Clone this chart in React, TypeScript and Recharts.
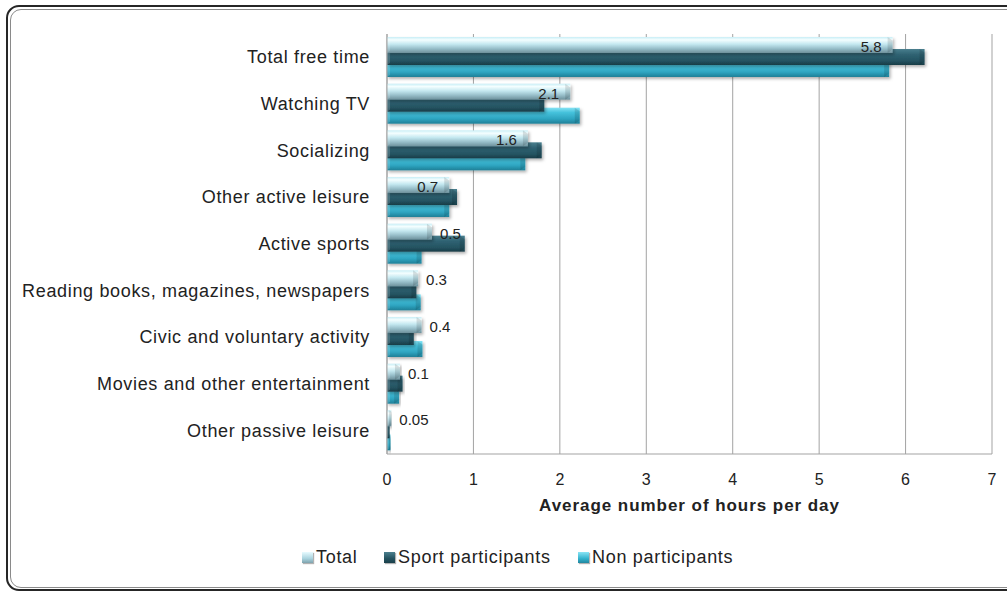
import React from 'react';
import { BarChart, Bar, XAxis, YAxis, CartesianGrid, LabelList } from 'recharts';

const categories = [
  'Total free time',
  'Watching TV',
  'Socializing',
  'Other active leisure',
  'Active sports',
  'Reading books, magazines, newspapers',
  'Civic and voluntary activity',
  'Movies and other entertainment',
  'Other passive leisure',
];
const totalValues = [5.85, 2.12, 1.63, 0.72, 0.52, 0.36, 0.4, 0.15, 0.05];
const sportValues = [6.22, 1.82, 1.79, 0.81, 0.9, 0.34, 0.31, 0.18, 0.03];
const nonValues = [5.81, 2.23, 1.6, 0.72, 0.4, 0.39, 0.41, 0.14, 0.04];
const totalLabels = ['5.8', '2.1', '1.6', '0.7', '0.5', '0.3', '0.4', '0.1', '0.05'];
const xTicks = [0, 1, 2, 3, 4, 5, 6, 7];

const data = categories.map((name, i) => ({
  name,
  total: totalValues[i],
  sport: sportValues[i],
  non: nonValues[i],
  label: totalLabels[i],
}));

const FONT = '"Liberation Sans", Arial, Helvetica, sans-serif';
const BAR_SIZE = 16;
const BAR_GAP = -4;
const STEP = BAR_SIZE + BAR_GAP;

// Series are painted Non -> Sport -> Total (so Total sits on top, as in the reference),
// while the slot order within each band is Total (top), Sport, Non (bottom).
const makeShape = (gid: string, slotShift: number) => (props: any) => {
  const { x, width, height } = props;
  const y = props.y + slotShift * STEP;
  if (!width || width <= 0) return null;
  const b = Math.min(5, width / 2);
  return (
    <g filter="url(#barShadow)">
      <rect x={x} y={y} width={width} height={height} fill={`url(#${gid})`} />
      <polygon
        points={`${x + width - b},${y} ${x + width},${y + b * 0.7} ${x + width},${y + height - b * 0.7} ${x + width - b},${y + height}`}
        fill="#000"
        fillOpacity={0.12}
      />
      <polygon
        points={`${x},${y} ${x + Math.min(3, width / 2)},${y + 2} ${x + Math.min(3, width / 2)},${y + height - 2} ${x},${y + height}`}
        fill="#fff"
        fillOpacity={0.15}
      />
    </g>
  );
};

const YTick = (props: any) => {
  const { x, y, payload } = props;
  return (
    <text x={x} y={y} dy={6} textAnchor="end" fontSize={18} fill="#222" letterSpacing={0.66} fontFamily={FONT}>
      {payload.value}
    </text>
  );
};

const XTick = (props: any) => {
  const { x, y, payload } = props;
  return (
    <text x={x} y={y} dy={15} textAnchor="middle" fontSize={16} fill="#222" fontFamily={FONT}>
      {payload.value}
    </text>
  );
};

const TotalLabel = (props: any) => {
  const { x, width, height, index } = props;
  const y = props.y - 2 * STEP;
  const text = totalLabels[index];
  const inside = index < 4;
  const tx = inside ? x + width - 11 : x + width + 8;
  return (
    <text
      x={tx}
      y={y + height / 2 + 2}
      dy={5}
      textAnchor={inside ? 'end' : 'start'}
      fontSize={15}
      fill="#222"
      fontFamily={FONT}
    >
      {text}
    </text>
  );
};

const legendItems = [
  { label: 'Total', left: 302, grad: 'linear-gradient(#e8fbff, #a9d3de 60%, #7fa2ad)' },
  { label: 'Sport participants', left: 384, grad: 'linear-gradient(#4b7f8e, #24525f 60%, #1a3f4a)' },
  { label: 'Non participants', left: 578, grad: 'linear-gradient(#8ae4f5, #33b2cd 60%, #22879f)' },
];

export default function App() {
  return (
    <div style={{ position: 'absolute', left: 0, top: 0, width: 1007, height: 592, overflow: 'hidden', background: '#fff' }}>
      <div
        style={{
          position: 'absolute',
          left: 6,
          top: 5,
          width: 1020,
          height: 586,
          boxSizing: 'border-box',
          border: '2.5px solid #262626',
          borderRadius: 13,
        }}
      >
        <div
          style={{
            position: 'absolute',
            left: 1.5,
            top: 1.5,
            right: 1.5,
            bottom: 1.5,
            border: '1px solid #8a8a8a',
            borderRadius: 11,
          }}
        />
      </div>
      <div style={{ position: 'absolute', left: 0, top: 0 }}>
        <BarChart
          width={1007}
          height={592}
          data={data}
          layout="vertical"
          margin={{ top: 34, right: 15, bottom: 78, left: 0 }}
          barSize={BAR_SIZE}
          barGap={BAR_GAP}
        >
          <defs>
            <linearGradient id="gTotal" x1="0" y1="0" x2="0" y2="1">
              <stop offset="0%" stopColor="#c8eef6" />
              <stop offset="18%" stopColor="#f4feff" />
              <stop offset="45%" stopColor="#c4e8f0" />
              <stop offset="72%" stopColor="#98bfca" />
              <stop offset="100%" stopColor="#6d909b" />
            </linearGradient>
            <linearGradient id="gSport" x1="0" y1="0" x2="0" y2="1">
              <stop offset="0%" stopColor="#4a7f8e" />
              <stop offset="35%" stopColor="#2f6272" />
              <stop offset="75%" stopColor="#245361" />
              <stop offset="100%" stopColor="#183c47" />
            </linearGradient>
            <linearGradient id="gNon" x1="0" y1="0" x2="0" y2="1">
              <stop offset="0%" stopColor="#86e3f4" />
              <stop offset="30%" stopColor="#45c2dc" />
              <stop offset="70%" stopColor="#2ea4c0" />
              <stop offset="100%" stopColor="#1f7f97" />
            </linearGradient>
            <filter id="barShadow" x="-5%" y="-30%" width="115%" height="180%">
              <feDropShadow dx="1.5" dy="2" stdDeviation="1.5" floodColor="#000" floodOpacity="0.3" />
            </filter>
          </defs>
          <CartesianGrid horizontal={false} vertical stroke="#a3a3a3" strokeWidth={1} />
          <XAxis
            type="number"
            domain={[0, 7]}
            ticks={xTicks}
            tickLine={false}
            axisLine={{ stroke: '#a3a3a3' }}
            tickSize={0}
            tickMargin={16}
            tick={<XTick />}
            height={60}
            interval={0}
            label={{
              content: (p: any) => {
                const vb = p.viewBox || {};
                return (
                  <text
                    x={vb.x + vb.width / 2}
                    y={vb.y + 57}
                    textAnchor="middle"
                    fontSize={17}
                    fontWeight="bold"
                    fill="#222"
                    letterSpacing={0.95}
                    fontFamily={FONT}
                  >
                    Average number of hours per day
                  </text>
                );
              },
            }}
          />
          <YAxis
            type="category"
            dataKey="name"
            width={387}
            tickLine={false}
            axisLine={{ stroke: '#a3a3a3' }}
            tickSize={0}
            tickMargin={17}
            tick={<YTick />}
            interval={0}
          />
          <Bar dataKey="non" shape={makeShape('gNon', 2)} isAnimationActive={false} />
          <Bar dataKey="sport" shape={makeShape('gSport', 0)} isAnimationActive={false} />
          <Bar dataKey="total" shape={makeShape('gTotal', -2)} isAnimationActive={false}>
            <LabelList dataKey="label" content={<TotalLabel />} />
          </Bar>
        </BarChart>
      </div>
      {legendItems.map((it) => (
        <div
          key={it.label}
          style={{
            position: 'absolute',
            left: it.left,
            top: 545,
            height: 24,
            display: 'flex',
            alignItems: 'center',
            fontFamily: FONT,
            fontSize: 18,
            letterSpacing: 0.7,
            color: '#222',
            whiteSpace: 'nowrap',
          }}
        >
          <span
            style={{
              display: 'inline-block',
              width: 11,
              height: 11,
              background: it.grad,
              boxShadow: '1px 1px 1px rgba(0,0,0,0.3)',
              marginRight: 3,
            }}
          />
          {it.label}
        </div>
      ))}
    </div>
  );
}
